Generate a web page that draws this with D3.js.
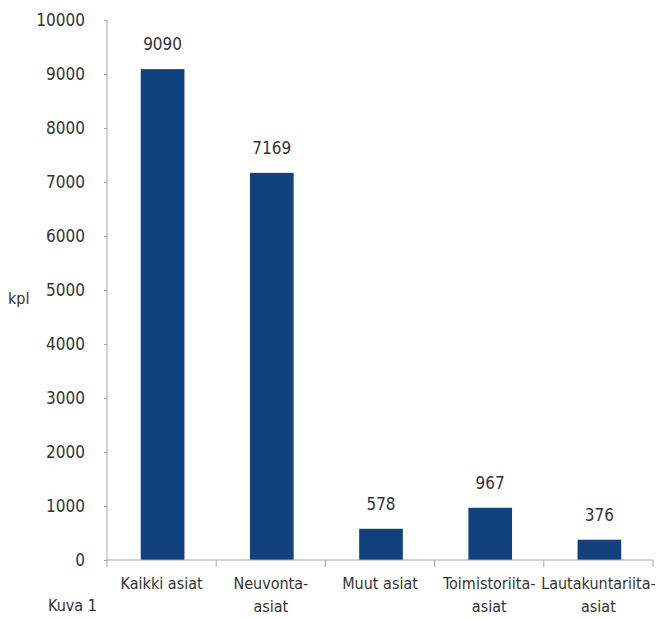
<!DOCTYPE html>
<html>
<head>
<meta charset="utf-8">
<script src="https://cdn.jsdelivr.net/npm/d3@7"></script>
<style>
  body { margin: 0; background: #fff; }
  text { font-family: "Liberation Sans Narrow", "DejaVu Sans Condensed", sans-serif; fill: #333; }
</style>
</head>
<body>
<div id="chart"></div>
<script>
// categories, each split in lines as in the original
var categories = ["Kaikki asiat", "Neuvonta-asiat", "Muut asiat", "Toimistoriita-asiat", "Lautakuntariita-asiat"];
var categoryLines = [["Kaikki asiat"], ["Neuvonta-", "asiat"], ["Muut asiat"], ["Toimistoriita-", "asiat"], ["Lautakuntariita-", "asiat"]];
var values = [9090, 7169, 578, 967, 376];
var yTicks = [0, 1000, 2000, 3000, 4000, 5000, 6000, 7000, 8000, 9000, 10000];

(function() {
  var width = 656, height = 620;
  var plotLeft = 107, plotRight = 653, plotTop = 20, plotBottom = 560;

  var svg = d3.select("#chart").append("svg")
    .attr("width", width)
    .attr("height", height);

  var x = d3.scaleBand().domain(categories).range([plotLeft, plotRight]).paddingInner(0.6).paddingOuter(0.3);
  var y = d3.scaleLinear().domain([0, 10000]).range([plotBottom, plotTop]);

  // bars
  svg.selectAll("rect.bar")
    .data(values)
    .enter().append("rect")
      .attr("class", "bar")
      .attr("x", function(d, i) { return x(categories[i]) + 1; })
      .attr("width", x.bandwidth())
      .attr("y", function(d) { return y(d); })
      .attr("height", function(d) { return y(0) - y(d); })
      .attr("fill", "#11427e");

  // value labels
  svg.selectAll("text.val")
    .data(values)
    .enter().append("text")
      .attr("class", "val")
      .attr("x", function(d, i) { return x(categories[i]) + 1 + x.bandwidth() / 2; })
      .attr("y", function(d) { return y(d) - 19; })
      .attr("text-anchor", "middle")
      .style("font-size", "17px")
      .text(function(d) { return d; });

  // y axis
  var yAxis = svg.append("g")
    .attr("transform", "translate(" + plotLeft + ",0)")
    .call(d3.axisLeft(y).tickValues(yTicks).tickSize(3).tickPadding(19).tickFormat(d3.format("d")));
  yAxis.selectAll("path, line").attr("stroke", "#a6a6a6");
  yAxis.selectAll("text").style("font-size", "17px").attr("fill", "#333");
  yAxis.select(".domain").attr("d", "M0," + plotTop + "V" + plotBottom);

  // x axis line and category ticks
  var xAxis = svg.append("g");
  xAxis.append("line")
    .attr("x1", plotLeft).attr("x2", plotRight)
    .attr("y1", plotBottom).attr("y2", plotBottom)
    .attr("stroke", "#a6a6a6");
  var edges = categories.map(function(c) { return x(c) - x.step() * x.paddingInner() / 2; });
  edges.push(plotRight);
  edges[0] = plotLeft;
  xAxis.selectAll("line.tk")
    .data(edges)
    .enter().append("line")
      .attr("class", "tk")
      .attr("x1", function(d) { return d; }).attr("x2", function(d) { return d; })
      .attr("y1", plotBottom).attr("y2", plotBottom + 7)
      .attr("stroke", "#a6a6a6");

  // category labels
  var catG = svg.selectAll("text.cat")
    .data(categoryLines)
    .enter().append("text")
      .attr("class", "cat")
      .attr("text-anchor", "middle")
      .style("font-size", "16px")
      .attr("transform", function(d, i) { return "translate(" + (x(categories[i]) + x.bandwidth() / 2) + ",0)"; });
  catG.selectAll("tspan")
    .data(function(d) { return d; })
    .enter().append("tspan")
      .attr("x", 0)
      .attr("y", function(d, j) { return 589 + j * 23; })
      .text(function(d) { return d; });

  // axis title and caption
  svg.append("text").attr("x", 8).attr("y", 304).style("font-size", "16px").text("kpl");
  svg.append("text").attr("x", 48).attr("y", 611).style("font-size", "16px").text("Kuva 1");
})();
</script>
</body>
</html>
